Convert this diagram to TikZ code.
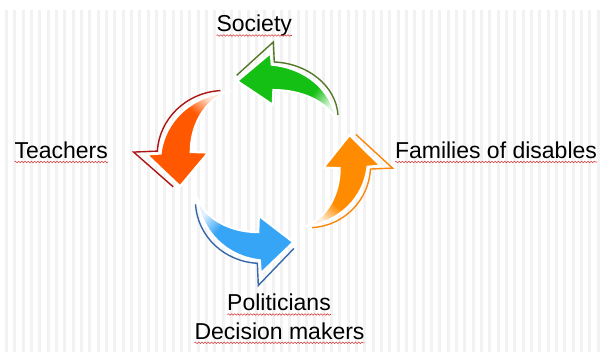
\documentclass[tikz,border=0pt]{standalone}
\usepackage{fontspec}
\setmainfont{Liberation Sans}
\usetikzlibrary{decorations.pathmorphing}
\definecolor{gfill}{RGB}{20,192,20}
\definecolor{gline}{RGB}{85,120,40}
\definecolor{rfill}{RGB}{255,88,0}
\definecolor{rline}{RGB}{175,20,20}
\definecolor{bfill}{RGB}{55,165,245}
\definecolor{bline}{RGB}{55,105,170}
\definecolor{ofill}{RGB}{255,140,0}
\definecolor{oline}{RGB}{250,135,10}
\definecolor{stripecol}{RGB}{242,242,242}
\definecolor{wavyred}{RGB}{215,60,60}
\colorlet{acol}{gfill}
\pgfdeclarehorizontalshading[acol]{tailfade}{100bp}{color(0bp)=(acol); color(64bp)=(acol); color(76bp)=(acol!15); color(100bp)=(acol!15)}
\newcommand\cyclearrow[3]{%
  \colorlet{acol}{#1}%
  \path[shade, shading=tailfade, shading angle=#3, draw=white, line width=2pt]
    (-28.7,79) -- (4.7,107) -- (5.7,95.3) .. controls (40,92) and (66,70) .. (70.7,39)
    .. controls (61,59) and (35,70) .. (7.3,70) -- (6.7,55.3) -- cycle;
  \draw[#2, line width=1.4pt, line join=miter]
    (-29.3,84.7) -- (7.3,118) -- (8.3,98) .. controls (42,96.5) and (70,74) .. (72,45);
}
\tikzset{
  label/.style={inner sep=0pt, outer sep=0pt, font=\fontsize{23}{27.6}\selectfont, text=black},
  wavy/.style={decorate, decoration={snake, amplitude=0.8pt, segment length=3.2pt}, draw=wavyred, line width=0.55pt},
}
\begin{document}
\begin{tikzpicture}[x=1pt,y=1pt]
\fill[white] (0,0) rectangle (600,352);
\useasboundingbox (0,0) rectangle (600,352);
\foreach \i in {0,...,71} \fill[stripecol] ({5+8.333*\i},0) rectangle +(3,342);

\begin{scope}[shift={(266,192)}]
  \cyclearrow{gfill}{gline}{-40}
\end{scope}
\begin{scope}[shift={(274,193)}, rotate=90, xscale=0.95, yscale=1.19]
  \cyclearrow{rfill}{rline}{50}
\end{scope}
\begin{scope}[shift={(265.4,197.5)}, rotate=180, xscale=0.97, yscale=1.11]
  \cyclearrow{bfill}{bline}{140}
\end{scope}
\begin{scope}[shift={(262.7,190.6)}, rotate=270, xscale=0.92, yscale=1.1]
  \cyclearrow{ofill}{oline}{230}
\end{scope}

\node[label, anchor=base west] (society) at (216.5,320) {Society};
\node[label, anchor=base west] (teachers) at (14.5,193.5) {Teachers};
\node[label, anchor=base west] (families) at (395,193.5) {Families of disables};
\node[label, anchor=base] (pol1) at (279,41) {Politicians};
\node[label, anchor=base] (pol2) at (279.5,12.7) {Decision makers};

\foreach \n in {society,teachers,families,pol1,pol2}
  \draw[wavy] ([yshift=-3.5pt]\n.base west) -- ([yshift=-3.5pt]\n.base east);
\end{tikzpicture}
\end{document}
